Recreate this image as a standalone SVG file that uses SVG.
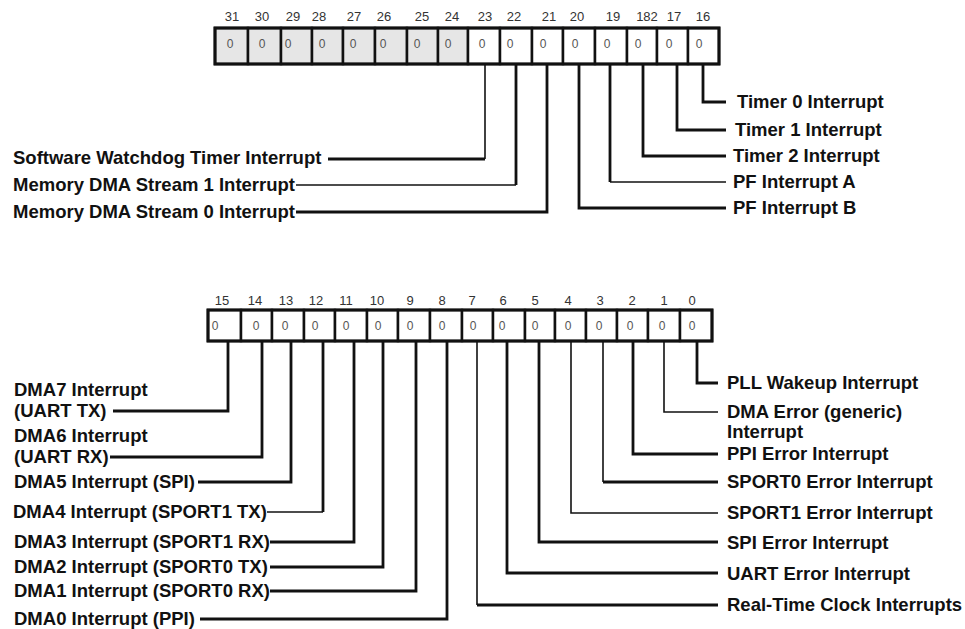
<svg xmlns="http://www.w3.org/2000/svg" width="965" height="629" viewBox="0 0 965 629">
<style>
.lbl{font-family:"Liberation Sans",Arial,sans-serif;font-weight:bold;font-size:18.5px;fill:#111}
.num{font-family:"Liberation Sans",Arial,sans-serif;font-size:13px;fill:#333;text-anchor:middle}
.zero{font-family:"Liberation Sans",Arial,sans-serif;font-size:12px;fill:#555;text-anchor:middle}
.cell{stroke:#111;stroke-width:2.5;fill:#fff}
.res{fill:#e6e6e6}
.outer{fill:none;stroke:#111;stroke-width:3}
.thick{fill:none;stroke:#111;stroke-width:2.8}
.thin{fill:none;stroke:#111;stroke-width:1.6}
</style>
<rect width="965" height="629" fill="#fff"/>

<g id="register-high">
  <rect class="cell res" x="215" y="28" width="33" height="36"/>
  <rect class="cell res" x="248" y="28" width="33" height="36"/>
  <rect class="cell res" x="281" y="28" width="31" height="36"/>
  <rect class="cell res" x="312" y="28" width="31" height="36"/>
  <rect class="cell res" x="343" y="28" width="32" height="36"/>
  <rect class="cell res" x="375" y="28" width="32" height="36"/>
  <rect class="cell res" x="407" y="28" width="31" height="36"/>
  <rect class="cell res" x="438" y="28" width="30" height="36"/>
  <rect class="cell" x="468" y="28" width="32" height="36"/>
  <rect class="cell" x="500" y="28" width="32" height="36"/>
  <rect class="cell" x="532" y="28" width="31" height="36"/>
  <rect class="cell" x="563" y="28" width="32" height="36"/>
  <rect class="cell" x="595" y="28" width="32" height="36"/>
  <rect class="cell" x="627" y="28" width="30" height="36"/>
  <rect class="cell" x="657" y="28" width="31" height="36"/>
  <rect class="cell" x="688" y="28" width="31" height="36"/>
  <rect class="outer" x="215" y="28" width="504" height="36"/>
  <g class="num">
    <text x="232" y="21">31</text><text x="262" y="21">30</text><text x="293" y="21">29</text><text x="319" y="21">28</text>
    <text x="354" y="21">27</text><text x="384" y="21">26</text><text x="422" y="21">25</text><text x="452" y="21">24</text>
    <text x="485" y="21">23</text><text x="514" y="21">22</text><text x="549" y="21">21</text><text x="577" y="21">20</text>
    <text x="613" y="21">19</text><text x="647" y="21">182</text><text x="674" y="21">17</text><text x="703" y="21">16</text>
  </g>
  <g class="zero">
    <text x="230" y="48">0</text><text x="262" y="48">0</text><text x="288" y="48">0</text><text x="322" y="48">0</text>
    <text x="353" y="48">0</text><text x="383" y="48">0</text><text x="417" y="48">0</text><text x="448" y="48">0</text>
    <text x="482" y="48">0</text><text x="510" y="48">0</text><text x="543" y="48">0</text><text x="575" y="48">0</text>
    <text x="607" y="48">0</text><text x="638" y="48">0</text><text x="669" y="48">0</text><text x="699" y="48">0</text>
  </g>
</g>

<g id="register-low">
  <rect class="cell" x="208" y="310" width="33" height="31"/>
  <rect class="cell" x="241" y="310" width="31" height="31"/>
  <rect class="cell" x="272" y="310" width="32" height="31"/>
  <rect class="cell" x="304" y="310" width="31" height="31"/>
  <rect class="cell" x="335" y="310" width="32" height="31"/>
  <rect class="cell" x="367" y="310" width="31" height="31"/>
  <rect class="cell" x="398" y="310" width="32" height="31"/>
  <rect class="cell" x="430" y="310" width="32" height="31"/>
  <rect class="cell" x="462" y="310" width="31" height="31"/>
  <rect class="cell" x="493" y="310" width="32" height="31"/>
  <rect class="cell" x="525" y="310" width="30" height="31"/>
  <rect class="cell" x="555" y="310" width="31" height="31"/>
  <rect class="cell" x="586" y="310" width="31" height="31"/>
  <rect class="cell" x="617" y="310" width="31" height="31"/>
  <rect class="cell" x="648" y="310" width="32" height="31"/>
  <rect class="cell" x="680" y="310" width="32" height="31"/>
  <rect class="outer" x="208" y="310" width="504" height="31"/>
  <g class="num">
    <text x="222" y="305">15</text><text x="255" y="305">14</text><text x="286" y="305">13</text><text x="316" y="305">12</text>
    <text x="346" y="305">11</text><text x="377" y="305">10</text><text x="410" y="305">9</text><text x="442" y="305">8</text>
    <text x="472" y="305">7</text><text x="503" y="305">6</text><text x="535" y="305">5</text><text x="568" y="305">4</text>
    <text x="600" y="305">3</text><text x="632" y="305">2</text><text x="664" y="305">1</text><text x="692" y="305">0</text>
  </g>
  <g class="zero">
    <text x="215" y="330">0</text><text x="256" y="330">0</text><text x="285" y="330">0</text><text x="315" y="330">0</text>
    <text x="346" y="330">0</text><text x="378" y="330">0</text><text x="410" y="330">0</text><text x="442" y="330">0</text>
    <text x="473" y="330">0</text><text x="502" y="330">0</text><text x="535" y="330">0</text><text x="568" y="330">0</text>
    <text x="599" y="330">0</text><text x="630" y="330">0</text><text x="662" y="330">0</text><text x="692" y="330">0</text>
  </g>
</g>

<g id="connectors">
  <path class="thin" d="M485,64 V159"/><path class="thick" d="M485,159 H328"/>
  <path class="thick" d="M516,64 V185"/><path class="thin" d="M516,185 H296"/>
  <path class="thick" d="M547,64 V212 H296"/>
  <path class="thick" d="M703,64 V102 H726"/>
  <path class="thick" d="M677,64 V130 H726"/>
  <path class="thick" d="M643,64 V156 H726"/>
  <path class="thick" d="M610,64 V182"/><path class="thin" d="M610,182 H726"/>
  <path class="thick" d="M579,64 V208 H726"/>

  <path class="thick" d="M228,341 V411 H113"/>
  <path class="thick" d="M262,341 V457 H110"/>
  <path class="thick" d="M291,341 V482 H198"/>
  <path class="thick" d="M323,341 V512"/><path class="thin" d="M323,512 H267"/>
  <path class="thick" d="M354,341 V542 H270"/>
  <path class="thick" d="M383,341 V567 H270"/>
  <path class="thick" d="M416,341 V591 H270"/>
  <path class="thick" d="M447,341 V619 H200"/>

  <path class="thin" d="M477,341 V605"/><path class="thick" d="M477,605 H718"/>
  <path class="thick" d="M507,341 V573 H718"/>
  <path class="thick" d="M539,341 V542 H718"/>
  <path class="thin" d="M571,341 V513 H718"/>
  <path class="thin" d="M603,341 V482"/><path class="thick" d="M603,482 H718"/>
  <path class="thick" d="M633,341 V454 H718"/>
  <path class="thin" d="M664,341 V412 H718"/>
  <path class="thick" d="M697,341 V383 H718"/>
</g>

<g id="lbl-swdt"><text class="lbl" x="13" y="164">Software Watchdog Timer Interrupt</text></g>
<g id="lbl-mdma1"><text class="lbl" x="13" y="191">Memory DMA Stream 1 Interrupt</text></g>
<g id="lbl-mdma0"><text class="lbl" x="13" y="218">Memory DMA Stream 0 Interrupt</text></g>
<g id="lbl-timer0"><text class="lbl" x="737" y="108">Timer 0 Interrupt</text></g>
<g id="lbl-timer1"><text class="lbl" x="735" y="136">Timer 1 Interrupt</text></g>
<g id="lbl-timer2"><text class="lbl" x="733" y="162">Timer 2 Interrupt</text></g>
<g id="lbl-pfa"><text class="lbl" x="733" y="188">PF Interrupt A</text></g>
<g id="lbl-pfb"><text class="lbl" x="733" y="214">PF Interrupt B</text></g>

<g id="lbl-dma7"><text class="lbl" x="14" y="396">DMA7 Interrupt</text><text class="lbl" x="14" y="417">(UART TX)</text></g>
<g id="lbl-dma6"><text class="lbl" x="14" y="442">DMA6 Interrupt</text><text class="lbl" x="14" y="463">(UART RX)</text></g>
<g id="lbl-dma5"><text class="lbl" x="14" y="488">DMA5 Interrupt (SPI)</text></g>
<g id="lbl-dma4"><text class="lbl" x="13" y="518">DMA4 Interrupt (SPORT1 TX)</text></g>
<g id="lbl-dma3"><text class="lbl" x="14" y="548">DMA3 Interrupt (SPORT1 RX)</text></g>
<g id="lbl-dma2"><text class="lbl" x="14" y="573">DMA2 Interrupt (SPORT0 TX)</text></g>
<g id="lbl-dma1"><text class="lbl" x="14" y="597">DMA1 Interrupt (SPORT0 RX)</text></g>
<g id="lbl-dma0"><text class="lbl" x="14" y="625">DMA0 Interrupt (PPI)</text></g>

<g id="lbl-pll"><text class="lbl" x="727" y="389">PLL Wakeup Interrupt</text></g>
<g id="lbl-dmaerr"><text class="lbl" x="727" y="418">DMA Error (generic)</text><text class="lbl" x="727" y="438">Interrupt</text></g>
<g id="lbl-ppierr"><text class="lbl" x="727" y="460">PPI Error Interrupt</text></g>
<g id="lbl-sport0err"><text class="lbl" x="727" y="488">SPORT0 Error Interrupt</text></g>
<g id="lbl-sport1err"><text class="lbl" x="727" y="519">SPORT1 Error Interrupt</text></g>
<g id="lbl-spierr"><text class="lbl" x="727" y="549">SPI Error Interrupt</text></g>
<g id="lbl-uarterr"><text class="lbl" x="727" y="580">UART Error Interrupt</text></g>
<g id="lbl-rtc"><text class="lbl" x="727" y="611">Real-Time Clock Interrupts</text></g>
</svg>
